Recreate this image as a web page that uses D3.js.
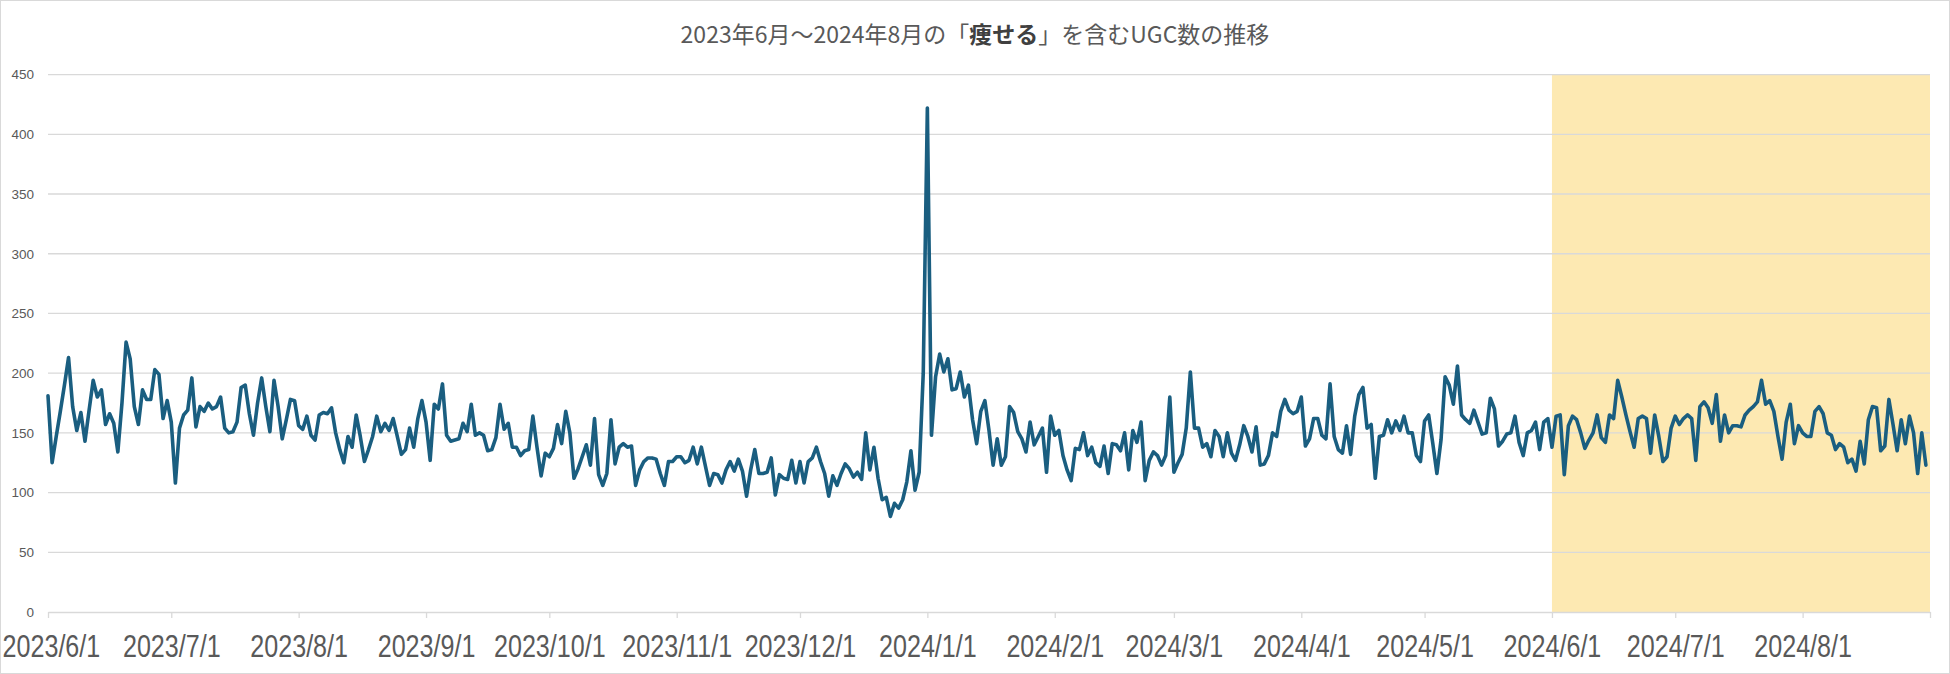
<!DOCTYPE html>
<html><head><meta charset="utf-8">
<script src="https://cdn.jsdelivr.net/npm/d3@7"></script>
<style>body{margin:0;background:#fff;} svg{display:block;}</style>
</head><body><svg id="chart" width="1950" height="674"></svg>
<script>
// ---- data ----
const startDate = "2023-06-01";
const axisEndDate = "2024-09-01";
const highlightStart = "2024-06-01";
const titleParts = ["2023年6月～2024年8月の「", "痩せる", "」を含むUGC数の推移"];
const monthTickLabels = ["2023/6/1","2023/7/1","2023/8/1","2023/9/1","2023/10/1","2023/11/1","2023/12/1","2024/1/1","2024/2/1","2024/3/1","2024/4/1","2024/5/1","2024/6/1","2024/7/1","2024/8/1"];
const yTicks = [0,50,100,150,200,250,300,350,400,450];

const ugc2023Jun = [181,125,147,168,190,213,172,152,167,143,169,194,180,186,157,166,158,134,175,226,212,172,157,186,178,178,203,199,162,177];
const ugc2023Jul = [159,108,154,165,169,196,155,172,168,175,170,172,180,154,150,151,159,188,190,166,148,175,196,172,151,194,172,145,161,178,177];
const ugc2023Aug = [156,153,164,148,144,165,167,166,171,150,136,125,147,138,165,147,126,136,147,164,151,158,152,162,147,132,136,154,138,162,177];
const ugc2023Sep = [159,127,174,170,191,148,143,144,145,158,151,174,148,150,148,135,136,146,174,153,158,138,138,131,135,136,164,138,114,133];
const ugc2023Oct = [130,137,157,141,168,150,112,120,130,140,123,162,115,106,116,161,124,138,141,138,139,106,119,126,129,129,128,116,106,126,126];
const ugc2023Nov = [130,130,125,127,138,124,138,122,106,116,115,108,119,126,118,128,118,97,119,136,116,116,117,129,98,115,112,111,127,108];
const ugc2023Dec = [126,108,126,129,138,126,116,97,114,106,116,124,120,113,117,111,150,119,138,112,94,96,80,91,87,94,109,135,102,117,200];
const ugc2024Jan = [422,148,197,216,201,212,186,187,201,180,190,161,141,168,177,152,123,145,123,130,172,167,151,145,134,159,140,147,154,117,164];
const ugc2024Feb = [148,152,131,119,110,137,136,150,131,138,125,122,139,116,141,140,135,150,119,152,142,159,110,127,134,131,123,131,180];
const ugc2024Mar = [117,125,132,154,201,154,154,138,141,130,152,147,130,150,133,127,140,156,147,134,155,123,124,131,150,147,168,178,169,166,168];
const ugc2024Apr = [180,139,145,162,162,148,145,191,147,136,133,156,132,164,182,188,154,157,112,147,148,161,150,160,152,164,150,150,131,126];
const ugc2024May = [160,165,141,116,144,197,190,174,206,165,161,158,169,159,149,150,179,170,139,143,149,150,164,142,131,150,152,159,136,159,162];
const ugc2024Jun = [138,164,165,115,156,164,161,150,137,144,150,165,146,142,165,162,194,180,165,151,138,162,164,162,133,165,147,126,130,154];
const ugc2024Jul = [164,157,162,165,162,127,172,176,171,158,182,143,165,150,156,156,155,165,169,172,176,194,174,177,168,147,128,159,174,141,156];
const ugc2024Aug = [150,147,147,168,172,166,150,148,136,141,138,125,128,118,143,124,161,172,171,135,139,178,157,135,161,141,164,150,116,150,123];

// ---- build ----
const values = [].concat(ugc2023Jun,ugc2023Jul,ugc2023Aug,ugc2023Sep,ugc2023Oct,ugc2023Nov,ugc2023Dec,
  ugc2024Jan,ugc2024Feb,ugc2024Mar,ugc2024Apr,ugc2024May,ugc2024Jun,ugc2024Jul,ugc2024Aug);
const parse = d3.timeParse("%Y-%m-%d");
const start = parse(startDate), axisEnd = parse(axisEndDate), hlStart = parse(highlightStart);
const data = values.map((v,i)=>({date:d3.timeDay.offset(start,i), value:v}));

const W = 1950, H = 674;
const plot = {left:48, right:1930, top:74.6, bottom:612};
const svg = d3.select("#chart");

const x = d3.scaleTime().domain([start, axisEnd]).range([plot.left, plot.right]);
const y = d3.scaleLinear().domain([0,450]).range([plot.bottom, plot.top]);

svg.append("rect").attr("x",0).attr("y",0).attr("width",W).attr("height",H).attr("fill","#fff");

// highlight
svg.append("rect")
  .attr("x", x(hlStart)).attr("y", y(450))
  .attr("width", x(axisEnd)-x(hlStart)).attr("height", y(0)-y(450))
  .attr("fill", "#fde9b2");

// gridlines
svg.append("g").selectAll("line").data(yTicks.filter(t=>t>0)).join("line")
  .attr("x1", plot.left).attr("x2", plot.right)
  .attr("y1", d=>y(d)).attr("y2", d=>y(d))
  .attr("stroke", "#d9d9d9").attr("stroke-width", 1.3);

// y axis labels
const yAxis = d3.axisLeft(y).tickValues(yTicks).tickSize(0).tickPadding(14).tickFormat(d3.format("d"));
const gy = svg.append("g").attr("transform", `translate(${plot.left},0)`).call(yAxis);
gy.select(".domain").remove();
gy.selectAll("text").attr("fill","#595959").style("font-family","'Liberation Sans', Arial, sans-serif").style("font-size","13.5px");

// x axis
const tickDates = d3.timeMonth.range(start, d3.timeDay.offset(axisEnd,1));
const xAxis = d3.axisBottom(x).tickValues(tickDates).tickSize(6).tickSizeOuter(0)
  .tickFormat((d,i)=> monthTickLabels[i] || "");
const gx = svg.append("g").attr("transform", `translate(0,${plot.bottom})`).call(xAxis);
gx.select(".domain").attr("stroke","#d9d9d9").attr("stroke-width",1.3);
gx.selectAll(".tick line").attr("stroke","#d9d9d9").attr("stroke-width",1.3);
const sx = 0.785;
gx.selectAll(".tick text")
  .attr("y", null).attr("dy", null)
  .attr("fill","#595959")
  .style("font-family","'Liberation Sans', Arial, sans-serif").style("font-size","32px")
  .each(function(d){
    const w = this.getComputedTextLength()*sx;
    const cx = x(d);
    let shift = 0;
    if (cx - w/2 < 2) shift = 2 - (cx - w/2);
    d3.select(this).attr("transform", `translate(${shift},45) scale(${sx},1)`);
  });

// line
const line = d3.line().x(d=>x(d.date)).y(d=>y(d.value));
svg.append("path").datum(data)
  .attr("d", line).attr("fill","none")
  .attr("stroke","#1a5e80").attr("stroke-width",3.6)
  .attr("stroke-linejoin","round").attr("stroke-linecap","round");

// title
const title = svg.append("text").attr("x", W/2).attr("y", 43).attr("text-anchor","middle")
  .style("font-family","'Noto Sans CJK JP', sans-serif").style("font-size","23px").attr("fill","#595959");
title.append("tspan").text(titleParts[0]);
title.append("tspan").text(titleParts[1]).attr("font-weight","bold").attr("fill","#404040");
title.append("tspan").text(titleParts[2]);

// border
svg.append("rect").attr("x",0.5).attr("y",0.5).attr("width",W-1).attr("height",H-1)
  .attr("fill","none").attr("stroke","#d9d9d9").attr("stroke-width",1);
</script>
</body></html>
